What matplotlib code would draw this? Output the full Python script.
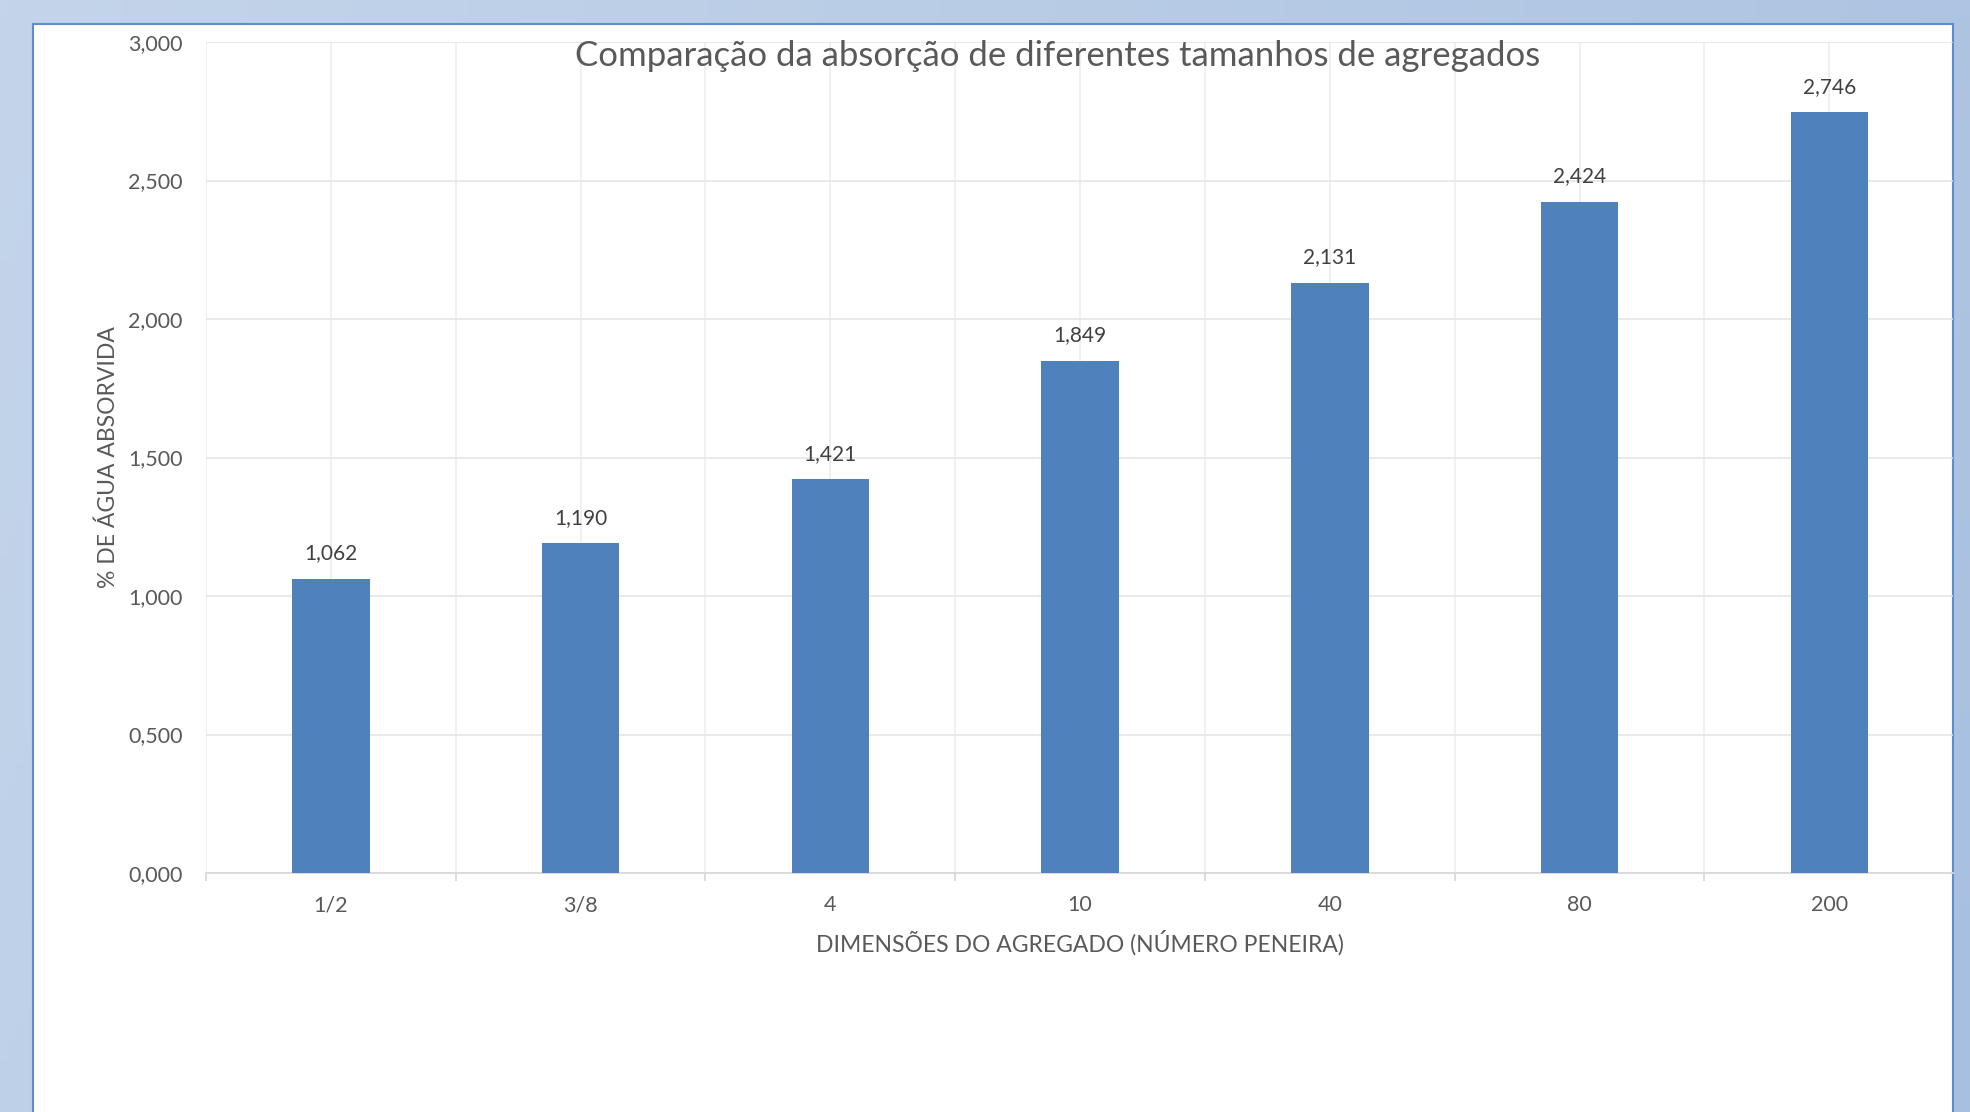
import numpy as np
import matplotlib
matplotlib.use("Agg")
import matplotlib.pyplot as plt
from matplotlib.patches import Rectangle
from matplotlib.ticker import FuncFormatter, FixedLocator

plt.rcParams['font.family'] = ['Lato', 'DejaVu Sans']

# data
categorias = ['1/2', '3/8', '4', '10', '40', '80', '200']
absorcao = [1.062, 1.190, 1.421, 1.849, 2.131, 2.424, 2.746]
y_ticks = [0.0, 0.5, 1.0, 1.5, 2.0, 2.5, 3.0]

titulo = 'Comparação da absorção de diferentes tamanhos de agregados'
rotulo_x = 'DIMENSÕES DO AGREGADO (NÚMERO PENEIRA)'
rotulo_y = '% DE ÁGUA ABSORVIDA'


def virgula(v, pos=None):
    return f'{v:.3f}'.replace('.', ',')


W, H = 1970, 1112
fig = plt.figure(figsize=(W / 100, H / 100), dpi=100)

# blue gradient background behind the chart panel
bg = fig.add_axes([0, 0, 1, 1], zorder=-10)
gx = np.linspace(0, 1, 256)
gy = np.linspace(0, 1, 64)
GX, GY = np.meshgrid(gx, gy)
c0 = np.array([0xc4, 0xd5, 0xea]) / 255
c1 = np.array([0xa8, 0xc0, 0xe0]) / 255
t = np.clip(0.8 * GX + 0.2 * GY, 0, 1)[..., None]
bg.imshow(c0 * (1 - t) + c1 * t, aspect='auto', extent=[0, 1, 0, 1], origin='upper')
bg.set_xlim(0, 1)
bg.set_ylim(0, 1)
bg.axis('off')

# white chart panel
bg.add_patch(Rectangle((33 / W, -0.01), (1953 - 33) / W, 1 - 24 / H + 0.01,
                       facecolor='white', edgecolor='#5b8dcf', linewidth=1.5))

ax = fig.add_axes([206 / W, (H - 873) / H, (1953 - 206) / W, 831 / H])
ax.set_facecolor('none')

x = np.arange(len(categorias))
bars = ax.bar(x, absorcao, width=0.31, color='#4f81bd', zorder=3)
ax.bar_label(bars, labels=[virgula(v) for v in absorcao], padding=11,
             fontsize=15, color='#404040')

ax.set_xlim(-0.5, len(categorias) - 0.5 - 0.005)
ax.set_ylim(0, 3.0)
ax.set_yticks(y_ticks)
ax.yaxis.set_major_formatter(FuncFormatter(virgula))
ax.set_xticks(x)
ax.set_xticklabels(categorias)
ax.xaxis.set_minor_locator(FixedLocator(np.arange(-0.5, len(categorias), 1.0)))

ax.grid(axis='y', which='major', color='#e3e3e3', linewidth=1.1, zorder=0)
ax.grid(axis='x', which='both', color='#ececec', linewidth=1.1, zorder=0)

for s in ['top', 'right', 'left']:
    ax.spines[s].set_visible(False)
ax.spines['bottom'].set_color('#d9d9d9')
ax.spines['bottom'].set_linewidth(1.3)

ax.tick_params(axis='y', length=0, pad=17, labelsize=15.5, labelcolor='#595959')
ax.tick_params(axis='x', which='major', length=0, pad=16, labelsize=15.5,
               labelcolor='#595959')
ax.tick_params(axis='x', which='minor', length=6, width=1.3, color='#d9d9d9')

ax.set_xlabel(rotulo_x, fontsize=16.5, color='#595959')
ax.set_ylabel(rotulo_y, fontsize=16.5, color='#595959')
ax.xaxis.set_label_coords(0.5, -0.069)
ax.yaxis.set_label_coords(-0.05, 0.5)

fig.text(1058 / W, 1 - 56 / H, titulo, ha='center', va='center',
         fontsize=25, color='#595959')

fig.savefig('out.png', dpi=100)
